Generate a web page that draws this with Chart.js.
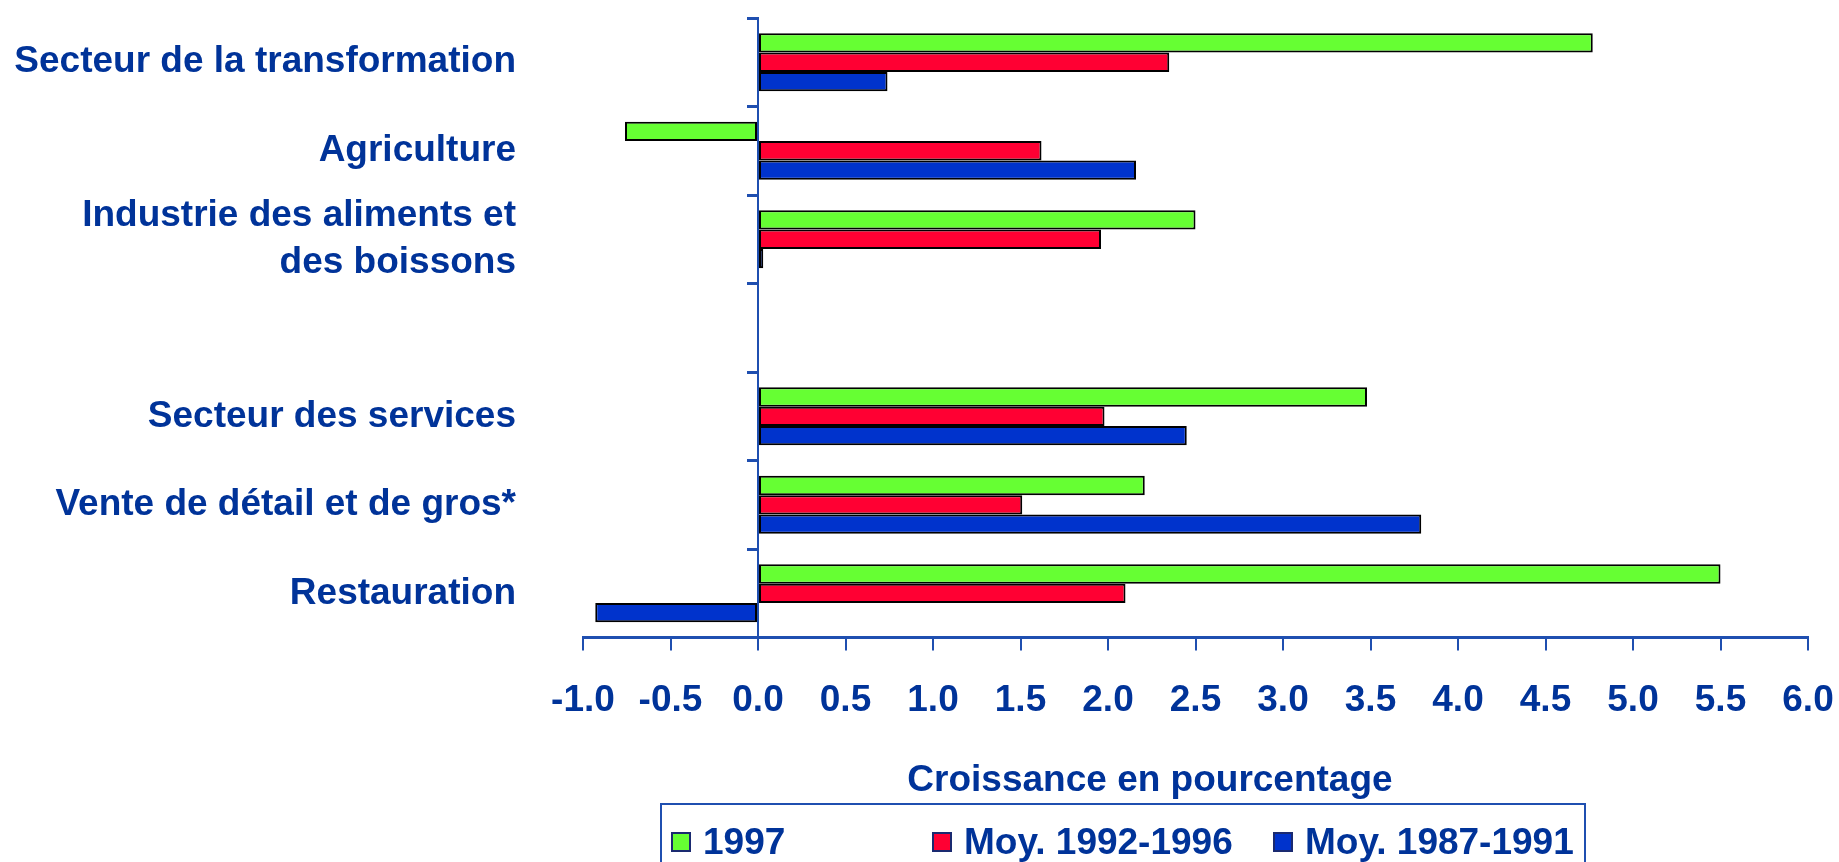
<!DOCTYPE html>
<html>
<head>
<meta charset="utf-8">
<title>Croissance en pourcentage</title>
<script src="https://cdn.jsdelivr.net/npm/chart.js@4.4.0/dist/chart.umd.min.js"></script>
<style>
    html, body { margin: 0; padding: 0; background: #fff; overflow: hidden; }
    #wrap { position: relative; width: 1839px; height: 862px; }
    #axisTitle {
        position: absolute; left: 800px; top: 758px; width: 700px; height: 44px; line-height: 44px;
        text-align: center; white-space: nowrap;
        font: bold 37px "Liberation Sans", Arial, sans-serif; color: #003399;
    }
    #legend {
        position: absolute; left: 660px; top: 803px; width: 926px; height: 90px;
        border: 2px solid #1f4fb0; box-sizing: border-box;
        font: bold 37px "Liberation Sans", Arial, sans-serif; color: #003399;
    }
    #legend .item { position: absolute; top: 17px; height: 40px; display: flex; align-items: center; white-space: nowrap; }
    #legend .swatch { width: 16px; height: 16px; border: 2px solid #1a2a70; margin-right: 12px; }
</style>
</head>
<body>
<div id="wrap">
    <canvas id="chart" width="1839" height="862"></canvas>
    <div id="axisTitle"></div>
    <div id="legend"></div>
</div>
<script>
////////////////////////////////////////////////////////////////////////
// Data
const categories = [
    'Secteur de la transformation',
    'Agriculture',
    ['Industrie des aliments et', 'des boissons'],
    '',
    'Secteur des services',
    'Vente de détail et de gros*',
    'Restauration'
]
const seriesNames = ['1997', 'Moy. 1992-1996', 'Moy. 1987-1991']
const values1997 = [4.77, -0.76, 2.50, null, 3.48, 2.21, 5.50]
const valuesMoy9296 = [2.35, 1.62, 1.96, null, 1.98, 1.51, 2.10]
const valuesMoy8791 = [0.74, 2.16, 0.03, null, 2.45, 3.79, -0.93]
const xMin = -1.0
const xMax = 6.0
const xStep = 0.5
const axisTitle = 'Croissance en pourcentage'

////////////////////////////////////////////////////////////////////////
// Styles
const textColor = '#003399'
const axisColor = '#1f4fb0'
const seriesColors = ['#66ff33', '#ff0033', '#0033cc']
const font = '"Liberation Sans", Arial, sans-serif'
const labelAxisWidth = 571

Chart.defaults.font.family = font

const datasets = [values1997, valuesMoy9296, valuesMoy8791].map((values, i) => ({
    label: seriesNames[i],
    data: values,
    backgroundColor: seriesColors[i],
    borderColor: '#000000',
    borderWidth: 2,
    borderSkipped: false,
    categoryPercentage: 0.655,
    barPercentage: 1.0
}))

new Chart(document.getElementById('chart'), {
    type: 'bar',
    data: { labels: categories, datasets: datasets },
    options: {
        indexAxis: 'y',
        responsive: false,
        animation: false,
        layout: { padding: { left: 12, right: 31, top: 18, bottom: 111 } },
        plugins: {
            legend: { display: false },
            tooltip: { enabled: false }
        },
        scales: {
            x: {
                min: xMin,
                max: xMax,
                ticks: {
                    stepSize: xStep,
                    callback: v => Number(v).toFixed(1),
                    color: textColor,
                    font: { size: 37, weight: 'bold' },
                    padding: 28,
                    maxRotation: 0,
                    autoSkip: false
                },
                grid: { drawOnChartArea: false, tickLength: 13, color: axisColor, lineWidth: 2 },
                border: { color: axisColor, width: 3 },
                afterFit: scale => {
                    scale.paddingLeft = 0
                    scale.paddingRight = 0
                }
            },
            y: {
                ticks: {
                    color: textColor,
                    font: { size: 37, weight: 'bold', lineHeight: 1.27 },
                    padding: 67,
                    autoSkip: false
                },
                grid: { display: false, drawTicks: false },
                border: { display: false },
                afterFit: scale => {
                    scale.width = labelAxisWidth
                    scale.paddingTop = 0
                    scale.paddingBottom = 0
                }
            },
            zero: {
                type: 'category',
                axis: 'y',
                position: { x: 0 },
                offset: true,
                grid: { offset: true, drawOnChartArea: false, tickLength: 10, color: axisColor, lineWidth: 3 },
                border: { color: axisColor, width: 2 },
                ticks: { display: false }
            }
        }
    }
})

////////////////////////////////////////////////////////////////////////
// Axis title and legend
document.getElementById('axisTitle').textContent = axisTitle

const legendLefts = [9, 270, 611]
const legend = document.getElementById('legend')
seriesNames.forEach((name, i) => {
    const item = document.createElement('div')
    item.className = 'item'
    item.style.left = legendLefts[i] + 'px'
    const swatch = document.createElement('span')
    swatch.className = 'swatch'
    swatch.style.background = seriesColors[i]
    const text = document.createElement('span')
    text.textContent = name
    item.appendChild(swatch)
    item.appendChild(text)
    legend.appendChild(item)
})
</script>
</body>
</html>
